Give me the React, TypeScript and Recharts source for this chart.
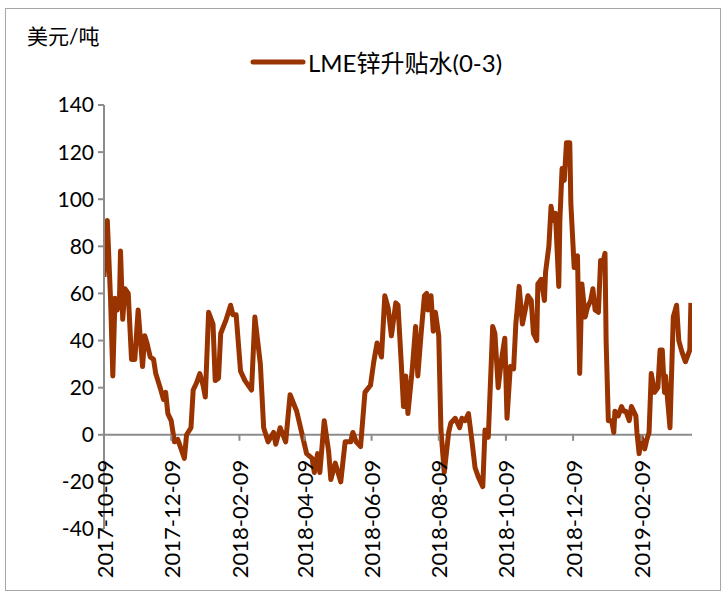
import { Legend, Line, LineChart, ReferenceLine, XAxis, YAxis } from "recharts";

const seriesName = "LME锌升贴水(0-3)";
const unitLabel = "美元/吨";

const dates = [
  "2017-10-09", "2017-10-12", "2017-10-15", "2017-10-17", "2017-10-19", "2017-10-21", "2017-10-23", "2017-10-24",
  "2017-10-26", "2017-10-28", "2017-10-31", "2017-11-03", "2017-11-06", "2017-11-09", "2017-11-13", "2017-11-15",
  "2017-11-17", "2017-11-20", "2017-11-23", "2017-11-25", "2017-11-29", "2017-12-02", "2017-12-04", "2017-12-06",
  "2017-12-09", "2017-12-12", "2017-12-15", "2017-12-18", "2017-12-21", "2017-12-23", "2017-12-27", "2017-12-29",
  "2018-01-01", "2018-01-04", "2018-01-07", "2018-01-09", "2018-01-12", "2018-01-16", "2018-01-18", "2018-01-21",
  "2018-01-23", "2018-01-28", "2018-02-01", "2018-02-03", "2018-02-06", "2018-02-10", "2018-02-14", "2018-02-20",
  "2018-02-23", "2018-02-28", "2018-03-03", "2018-03-07", "2018-03-12", "2018-03-14", "2018-03-18", "2018-03-23",
  "2018-03-27", "2018-04-02", "2018-04-06", "2018-04-11", "2018-04-16", "2018-04-18", "2018-04-21", "2018-04-23",
  "2018-04-27", "2018-05-01", "2018-05-03", "2018-05-07", "2018-05-12", "2018-05-16", "2018-05-21", "2018-05-23",
  "2018-05-26", "2018-05-30", "2018-06-03", "2018-06-08", "2018-06-11", "2018-06-14", "2018-06-18", "2018-06-21",
  "2018-06-24", "2018-06-27", "2018-07-01", "2018-07-03", "2018-07-06", "2018-07-08", "2018-07-10", "2018-07-12",
  "2018-07-16", "2018-07-19", "2018-07-21", "2018-07-24", "2018-07-27", "2018-07-29", "2018-07-30", "2018-08-02",
  "2018-08-04", "2018-08-06", "2018-08-09", "2018-08-11", "2018-08-14", "2018-08-18", "2018-08-20", "2018-08-24",
  "2018-08-28", "2018-08-30", "2018-09-02", "2018-09-05", "2018-09-08", "2018-09-11", "2018-09-14", "2018-09-18",
  "2018-09-20", "2018-09-23", "2018-09-27", "2018-09-29", "2018-10-02", "2018-10-05", "2018-10-08", "2018-10-10",
  "2018-10-13", "2018-10-16", "2018-10-18", "2018-10-19", "2018-10-21", "2018-10-24", "2018-10-27", "2018-10-29",
  "2018-11-01", "2018-11-03", "2018-11-06", "2018-11-07", "2018-11-10", "2018-11-13", "2018-11-14", "2018-11-17",
  "2018-11-19", "2018-11-21", "2018-11-23", "2018-11-26", "2018-11-27", "2018-11-29", "2018-12-01", "2018-12-03",
  "2018-12-06", "2018-12-07", "2018-12-10", "2018-12-12", "2018-12-13", "2018-12-15", "2018-12-17", "2018-12-20",
  "2018-12-22", "2018-12-25", "2018-12-27", "2018-12-29", "2019-01-01", "2019-01-03", "2019-01-05", "2019-01-07",
  "2019-01-08", "2019-01-10", "2019-01-13", "2019-01-15", "2019-01-16", "2019-01-19", "2019-01-22", "2019-01-24",
  "2019-01-26", "2019-01-29", "2019-01-31", "2019-02-04", "2019-02-05", "2019-02-07", "2019-02-09", "2019-02-12",
  "2019-02-14", "2019-02-16", "2019-02-18", "2019-02-21", "2019-02-24", "2019-02-26", "2019-02-28", "2019-03-02",
  "2019-03-03", "2019-03-07", "2019-03-10", "2019-03-13", "2019-03-15", "2019-03-18", "2019-03-21", "2019-03-25",
  "2019-03-26",
];

const premium = [
  67, 91, 57, 25, 58, 53, 56, 78,
  49, 62, 60, 32, 32, 53, 29, 42,
  39, 33, 32, 26, 20, 15, 18, 9,
  6, -3, -2, -6, -10, 0, 3, 19,
  22, 26, 21, 16, 52, 47, 23, 24,
  43, 49, 55, 51, 51, 27, 23, 19,
  50, 30, 3, -3, 1, -4, 3, -3,
  17, 10, 2, -8, -10, -16, -8, -16,
  6, -7, -19, -12, -20, -3, -3, 1,
  -3, -5, 18, 21, 31, 39, 33, 59,
  54, 42, 56, 55, 30, 12, 25, 9,
  28, 46, 25, 43, 59, 60, 53, 59,
  44, 52, 42, 2, -16, 1, 5, 7,
  3, 7, 6, 9, -2, -14, -18, -22,
  2, -1, 46, 43, 20, 32, 41, 7,
  29, 28, 47, 52, 63, 47, 54, 59,
  57, 43, 40, 64, 66, 57, 69, 80,
  97, 91, 94, 63, 91, 113, 108, 124,
  124, 98, 71, 75, 76, 26, 64, 50,
  54, 57, 62, 53, 52, 74, 73, 77,
  40, 6, 6, 1, 10, 8, 12, 10,
  10, 6, 12, 8, 1, -8, -1, -6,
  -2, 1, 26, 18, 20, 36, 36, 18,
  25, 3, 50, 55, 40, 35, 31, 36,
  56,
];

const xTickLabels = [
  "2017-10-09", "2017-12-09", "2018-02-09", "2018-04-09", "2018-06-09",
  "2018-08-09", "2018-10-09", "2018-12-09", "2019-02-09",
];
const xRange = ["2017-10-09", "2019-03-27"];
const yTicks = [-40, -20, 0, 20, 40, 60, 80, 100, 120, 140];

const data = dates.map((d, i) => ({ t: Date.parse(d), v: premium[i] }));

const W = 728;
const H = 596;
const TOP = 105;
const X_AXIS_H = 67;
const LINE_COLOR = "#993300";
const AXIS_COLOR = "#8c8c8c";
const FONT = "Lato, 'Noto Sans CJK SC', sans-serif";

const plotH = H - TOP - X_AXIS_H;
const yMin = yTicks[0];
const yMax = yTicks[yTicks.length - 1];
const zeroY = TOP + (plotH * yMax) / (yMax - yMin);

function DateTick(props: any) {
  const { x, payload } = props;
  const label = new Date(payload.value).toISOString().slice(0, 10);
  return (
    <g>
      <line x1={x} x2={x} y1={zeroY} y2={zeroY + 6} stroke={AXIS_COLOR} strokeWidth={2} />
      <text
        transform={`translate(${x},${zeroY + 25}) rotate(-90)`}
        textAnchor="end"
        dominantBaseline="central"
        fontSize={22}
        fill="#000"
      >
        {label}
      </text>
    </g>
  );
}

function LegendContent(props: any) {
  return (
    <div style={{ display: "flex", alignItems: "center" }}>
      {(props.payload || []).map((p: any) => (
        <div key={p.value} style={{ display: "flex", alignItems: "center" }}>
          <svg width={56} height={10}>
            <line x1={3} x2={53} y1={5} y2={5} stroke={p.color} strokeWidth={5} strokeLinecap="round" />
          </svg>
          <span style={{ fontSize: 24, color: "#000", marginLeft: 2 }}>{p.value}</span>
        </div>
      ))}
    </div>
  );
}

export default function App() {
  return (
    <div style={{ position: "relative", width: W, height: H, fontFamily: FONT, background: "#fff" }}>
      <style>{"body{margin:0}"}</style>
      <div
        style={{
          position: "absolute", left: 5, top: 8, width: 716, height: 583,
          border: "1px solid #a6a6a6", boxSizing: "border-box",
        }}
      />
      <div style={{ position: "absolute", left: 27, top: 20, fontSize: 21, color: "#000" }}>{unitLabel}</div>
      <LineChart width={W} height={H} data={data} margin={{ top: TOP, right: 36, left: 0, bottom: 0 }}>
        <XAxis
          dataKey="t"
          type="number"
          scale="time"
          domain={xRange.map((d) => Date.parse(d))}
          ticks={xTickLabels.map((d) => Date.parse(d))}
          interval={0}
          height={X_AXIS_H}
          axisLine={false}
          tickLine={false}
          tick={(p: any) => <DateTick {...p} />}
          allowDataOverflow
        />
        <YAxis
          domain={[yMin, yMax]}
          ticks={yTicks}
          width={104}
          axisLine={{ stroke: AXIS_COLOR, strokeWidth: 2 }}
          tickLine={{ stroke: AXIS_COLOR, strokeWidth: 2 }}
          tickSize={6}
          tickMargin={4}
          tick={{ fill: "#000", fontSize: 21 }}
          interval={0}
        />
        <ReferenceLine y={0} stroke={AXIS_COLOR} strokeWidth={2} />
        <Legend
          layout="vertical"
          verticalAlign="middle"
          align="center"
          wrapperStyle={{ top: 44, left: 250, width: 340 }}
          content={(p: any) => <LegendContent {...p} />}
        />
        <Line
          name={seriesName}
          type="linear"
          dataKey="v"
          stroke={LINE_COLOR}
          strokeWidth={5}
          strokeLinejoin="round"
          dot={false}
          isAnimationActive={false}
        />
      </LineChart>
    </div>
  );
}
